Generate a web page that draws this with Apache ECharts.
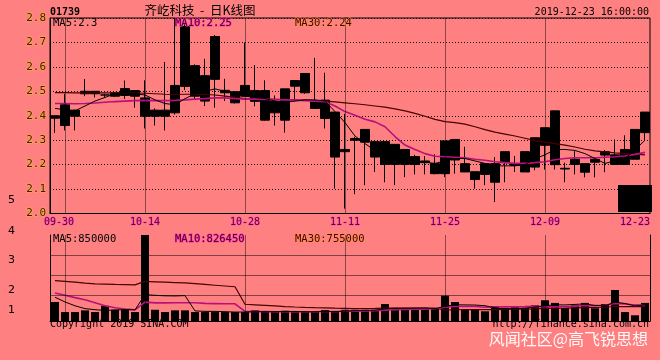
<!DOCTYPE html>
<html><head><meta charset="utf-8">
<script src="https://cdn.jsdelivr.net/npm/echarts@6/dist/echarts.min.js"></script>
<style>html,body{margin:0;padding:0;background:#FF8080;}#c{width:660px;height:360px;}</style>
</head><body><div id="c"></div>
<script>
const dates = ['09-27','09-30','10-02','10-03','10-04','10-08','10-09','10-10','10-11','10-14',
 '10-15','10-16','10-17','10-18','10-21','10-22','10-23','10-24','10-25','10-28',
 '10-29','10-30','10-31','11-01','11-04','11-05','11-06','11-07','11-08','11-11',
 '11-12','11-13','11-14','11-15','11-18','11-19','11-20','11-21','11-22','11-25',
 '11-26','11-27','11-28','11-29','12-02','12-03','12-04','12-05','12-06','12-09',
 '12-10','12-11','12-12','12-13','12-16','12-17','12-18','12-19','12-20','12-23'];
const opens = [2.40,2.36,2.423,2.49,2.50,2.485,2.48,2.483,2.503,2.473,
 2.423,2.398,2.412,2.765,2.605,2.564,2.724,2.504,2.498,2.48,
 2.503,2.503,2.412,2.51,2.521,2.573,2.456,2.464,2.415,2.262,
 2.30,2.344,2.294,2.294,2.283,2.262,2.233,2.215,2.204,2.163,
 2.303,2.204,2.171,2.16,2.204,2.208,2.204,2.17,2.19,2.279,
 2.42,2.185,2.201,2.204,2.21,2.239,2.24,2.201,2.222,2.331];
const closes = [2.39,2.445,2.398,2.50,2.49,2.485,2.494,2.511,2.48,2.398,
 2.398,2.423,2.524,2.52,2.48,2.46,2.549,2.494,2.453,2.524,
 2.459,2.382,2.459,2.382,2.544,2.494,2.43,2.389,2.231,2.253,
 2.307,2.292,2.231,2.201,2.201,2.201,2.201,2.208,2.163,2.297,
 2.219,2.17,2.139,2.204,2.128,2.253,2.197,2.253,2.31,2.351,
 2.20,2.182,2.222,2.169,2.222,2.253,2.201,2.262,2.344,2.415];
const lows = [2.33,2.34,2.34,2.48,2.475,2.475,2.478,2.469,2.433,2.348,
 2.36,2.34,2.405,2.505,2.469,2.44,2.433,2.46,2.45,2.478,
 2.439,2.38,2.36,2.331,2.459,2.49,2.428,2.348,2.102,2.02,
 2.079,2.116,2.17,2.128,2.116,2.149,2.16,2.16,2.16,2.149,
 2.163,2.17,2.102,2.116,2.047,2.128,2.17,2.17,2.177,2.18,
 2.18,2.128,2.16,2.148,2.148,2.169,2.201,2.201,2.222,2.30];
const highs = [2.40,2.49,2.425,2.55,2.50,2.49,2.496,2.544,2.503,2.545,
 2.43,2.62,2.80,2.78,2.61,2.633,2.73,2.551,2.50,2.70,
 2.607,2.545,2.483,2.51,2.545,2.575,2.637,2.576,2.415,2.408,
 2.314,2.344,2.294,2.294,2.283,2.262,2.24,2.235,2.242,2.297,
 2.303,2.273,2.171,2.204,2.231,2.253,2.235,2.253,2.31,2.351,
 2.42,2.208,2.255,2.204,2.222,2.26,2.303,2.32,2.344,2.415];
const ma5 = [2.43,2.425,2.42,2.44,2.46,2.475,2.49,2.495,2.49,2.485,
 2.465,2.45,2.445,2.47,2.49,2.50,2.51,2.50,2.49,2.48,
 2.475,2.47,2.46,2.455,2.46,2.465,2.465,2.46,2.417,2.372,
 2.317,2.286,2.258,2.245,2.232,2.222,2.215,2.21,2.205,2.215,
 2.225,2.225,2.215,2.205,2.195,2.195,2.195,2.20,2.225,2.24,
 2.262,2.262,2.258,2.245,2.225,2.205,2.215,2.225,2.26,2.30];
const ma10 = [2.45,2.45,2.449,2.45,2.452,2.455,2.458,2.46,2.462,2.463,
 2.462,2.462,2.463,2.465,2.468,2.47,2.473,2.473,2.47,2.468,
 2.468,2.467,2.466,2.465,2.464,2.462,2.46,2.457,2.44,2.417,
 2.402,2.386,2.375,2.355,2.315,2.28,2.262,2.245,2.234,2.232,
 2.23,2.228,2.222,2.218,2.212,2.208,2.205,2.205,2.208,2.212,
 2.22,2.225,2.228,2.228,2.228,2.23,2.232,2.235,2.242,2.25];
const ma30 = [2.495,2.495,2.494,2.494,2.494,2.494,2.493,2.493,2.493,2.492,
 2.49,2.488,2.487,2.488,2.488,2.487,2.485,2.48,2.475,2.47,
 2.469,2.468,2.467,2.466,2.465,2.464,2.462,2.46,2.457,2.453,
 2.449,2.445,2.44,2.435,2.428,2.42,2.41,2.398,2.385,2.376,
 2.372,2.366,2.355,2.343,2.333,2.325,2.317,2.308,2.298,2.292,
 2.286,2.28,2.272,2.263,2.256,2.252,2.248,2.245,2.243,2.24];
const volumes = [1000000,470000,470000,560000,470000,800000,590000,590000,470000,4520000,
 590000,470000,560000,560000,470000,470000,470000,470000,470000,470000,
 560000,470000,470000,540000,470000,470000,470000,580000,470000,590000,
 590000,590000,590000,890000,680000,590000,630000,630000,680000,1330000,
 1000000,590000,590000,510000,770000,680000,720000,680000,820000,1090000,
 950000,680000,820000,950000,670000,890000,1630000,470000,300000,950000];
const vma5 = [1250000,1000000,800000,650000,594000,554000,578000,602000,584000,1390000,
 1348000,1324000,1318000,1336000,530000,506000,506000,488000,470000,470000,
 488000,488000,488000,502000,502000,484000,484000,506000,492000,516000,
 540000,564000,566000,650000,668000,668000,676000,684000,642000,772000,
 854000,846000,838000,804000,692000,628000,654000,672000,734000,798000,
 852000,844000,872000,898000,814000,802000,992000,922000,792000,850000];
const vma10 = [1470000,1350000,1230000,1120000,960000,800000,700000,630000,590000,992000,
 951000,951000,960000,960000,960000,927000,915000,903000,903000,500000,
 497000,497000,488000,486000,486000,486000,486000,497000,497000,509000,
 512000,524000,536000,571000,592000,604000,620000,625000,646000,720000,
 761000,761000,761000,723000,732000,741000,750000,755000,769000,745000,
 740000,749000,772000,816000,806000,827000,918000,897000,845000,826450];
const vma30 = [2120000,2080000,2040000,1990000,1950000,1935000,1920000,1910000,1900000,2080000,
 2060000,2040000,2020000,2000000,1960000,1920000,1880000,1840000,1800000,880000,
 850000,820000,790000,760000,735000,715000,700000,690000,675000,667000,
 653000,657000,661000,672000,679000,672000,674000,675000,682000,576000,
 590000,594000,595000,593000,603000,610000,619000,626000,637000,658000,
 671000,678000,690000,703000,710000,724000,763000,759000,753000,755000];
const dateTicks = ['09-30','10-14','10-28','11-11','11-25','12-09','12-23'];
const gridDates = ['09-30','10-14','10-28','11-11','11-25','12-09'];
const volScaleLabels = ['5','4','3','2','1'];

const MONO = 'DejaVu Sans Mono';
const VOL_MAX = 4520000;
const VOL_TOP = 235, VOL_H = 86;
const candleData = dates.map((d, i) => [opens[i], closes[i], lows[i], highs[i]]);
const faint = () => ({color:'rgba(0,0,0,0.45)', width:1, type:'solid'});
const dateLines = () => ({
  silent:true, symbol:['none','none'], label:{show:false},
  lineStyle:faint(),
  data:gridDates.map(d => ({xAxis:d}))
});

const chart = echarts.init(document.getElementById('c'));
const volLabelY = [200, 231, 260, 290, 310];
const txt = (text, x, y, style) => ({type:'text', x:x, y:y, z:100, style:Object.assign({text:text, font:'10px ' + MONO, fill:'#000', verticalAlign:'middle'}, style)});
const labStyle = () => ({fontFamily:MONO, fontSize:10, color:'#600040', textBorderColor:'#ff50b0', textBorderWidth:1});
// volume-panel horizontal guide lines: 20px apart below the panel's top edge (decoration, not data)
const volGuides = [20, 40, 60].map(off => ({
  type:'line', z:50, silent:true,
  shape:{x1:50, y1:VOL_TOP + off + 0.5, x2:650, y2:VOL_TOP + off + 0.5},
  style:{stroke:'rgba(0,0,0,0.5)', lineWidth:1}
}));

chart.setOption({
  animation:false,
  backgroundColor:'#FF8080',
  grid:[
    {left:50, top:18, width:600, height:195.5, show:true, borderColor:'#000', borderWidth:1, backgroundColor:'rgba(0,0,0,0)'},
    {left:50, top:VOL_TOP, width:600, height:VOL_H}
  ],
  xAxis:[
    {type:'category', gridIndex:0, data:dates, boundaryGap:true,
     axisLine:{show:true, lineStyle:{color:'#000'}}, axisTick:{show:false},
     axisLabel:Object.assign({interval:(i, v) => dateTicks.indexOf(v) >= 0, margin:4,
       formatter:(v) => v === dateTicks[dateTicks.length-1] ? '{e|' + v + '}' : (v === dateTicks[0] ? '{s|' + v + '}' : v),
       rich:{
         e:Object.assign({padding:[0,20,0,0]}, labStyle()),
         s:Object.assign({padding:[0,12,0,0]}, labStyle())
       }}, labStyle()),
     splitLine:{show:false}},
    {type:'category', gridIndex:1, data:dates, boundaryGap:true, position:'top',
     axisLine:{show:true, lineStyle:{color:'#000'}}, axisTick:{show:false}, axisLabel:{show:false},
     splitLine:{show:false}}
  ],
  yAxis:[
    {type:'value', gridIndex:0, min:2.0, max:2.8, interval:0.1,
     axisLine:{show:true, lineStyle:{color:'#000'}}, axisTick:{show:false},
     axisLabel:{formatter:(v) => v.toFixed(1), margin:4, fontFamily:MONO, fontSize:11,
       color:'#402000', textBorderColor:'#ffb040', textBorderWidth:1},
     splitLine:{show:true, lineStyle:{color:'#000', width:1, type:[1,2]}}},
    {type:'value', gridIndex:1, min:0, max:VOL_MAX,
     axisLine:{show:true, lineStyle:{color:'#000'}}, axisTick:{show:false}, axisLabel:{show:false}, splitLine:{show:false}},
    {type:'value', gridIndex:1, position:'right', min:0, max:VOL_MAX,
     axisLine:{show:true, lineStyle:{color:'#000'}}, axisTick:{show:false}, axisLabel:{show:false}, splitLine:{show:false}}
  ],
  series:[
    {type:'candlestick', xAxisIndex:0, yAxisIndex:0, data:candleData, barWidth:9,
     itemStyle:{color:'#000', color0:'#000', borderColor:'#000', borderColor0:'#000', borderWidth:1},
     markLine:dateLines()},
    {type:'line', xAxisIndex:0, yAxisIndex:0, data:ma30, symbol:'none', lineStyle:{color:'#4a0000', width:1.2}},
    {type:'line', xAxisIndex:0, yAxisIndex:0, data:ma10, symbol:'none', lineStyle:{color:'#b8107a', width:1.6}},
    {type:'line', xAxisIndex:0, yAxisIndex:0, data:ma5, symbol:'none', lineStyle:{color:'#000', width:1}},
    {type:'bar', xAxisIndex:1, yAxisIndex:1, data:volumes, barWidth:8, itemStyle:{color:'#000'},
     markLine:dateLines()},
    {type:'line', xAxisIndex:1, yAxisIndex:1, data:vma30, symbol:'none', lineStyle:{color:'#4a0000', width:1.2}},
    {type:'line', xAxisIndex:1, yAxisIndex:1, data:vma10, symbol:'none', lineStyle:{color:'#b8107a', width:1.6}},
    {type:'line', xAxisIndex:1, yAxisIndex:1, data:vma5, symbol:'none', lineStyle:{color:'#000', width:1}}
  ],
  graphic:volGuides.concat([
    txt('01739', 50, 12, {font:'bold 10px ' + MONO}),
    txt('齐屹科技  -  日K线图', 200, 10, {font:'12.5px "Noto Sans CJK SC"', align:'center'}),
    txt('2019-12-23 16:00:00', 649, 12, {align:'right'}),
    txt('MA5:' + ma5[ma5.length-1].toFixed(1), 53, 23.5, {font:'10.5px ' + MONO}),
    txt('MA10:' + ma10[ma10.length-1].toFixed(2), 175, 23.5, {font:'10.5px ' + MONO, fill:'#500030', stroke:'#ff30b0', lineWidth:1}),
    txt('MA30:' + ma30[ma30.length-1].toFixed(2), 295, 23.5, {font:'10.5px ' + MONO, fill:'#400000', stroke:'#ff9050', lineWidth:1}),
    txt('MA5:' + vma5[vma5.length-1], 53, 239, {font:'10.5px ' + MONO}),
    txt('MA10:' + vma10[vma10.length-1], 175, 239, {font:'10.5px ' + MONO, fill:'#500030', stroke:'#ff30b0', lineWidth:1}),
    txt('MA30:' + vma30[vma30.length-1], 295, 239, {font:'10.5px ' + MONO, fill:'#400000', stroke:'#ff9050', lineWidth:1}),
    txt('Copyright 2019 SINA.COM', 50, 324),
    txt('http://finance.sina.com.cn', 649, 324, {align:'right'}),
    txt('风闻社区@高飞锐思想', 648, 339, {font:'16px "Noto Sans CJK SC"', fill:'rgba(255,255,255,0.95)', align:'right'}),
    {type:'rect', z:100, shape:{x:618, y:185, width:34, height:27}, style:{fill:'#000'}}
  ]).concat(volScaleLabels.map((t, i) => txt(t, 8, volLabelY[i], {font:'11px "DejaVu Sans"'})))
});
</script></body></html>
